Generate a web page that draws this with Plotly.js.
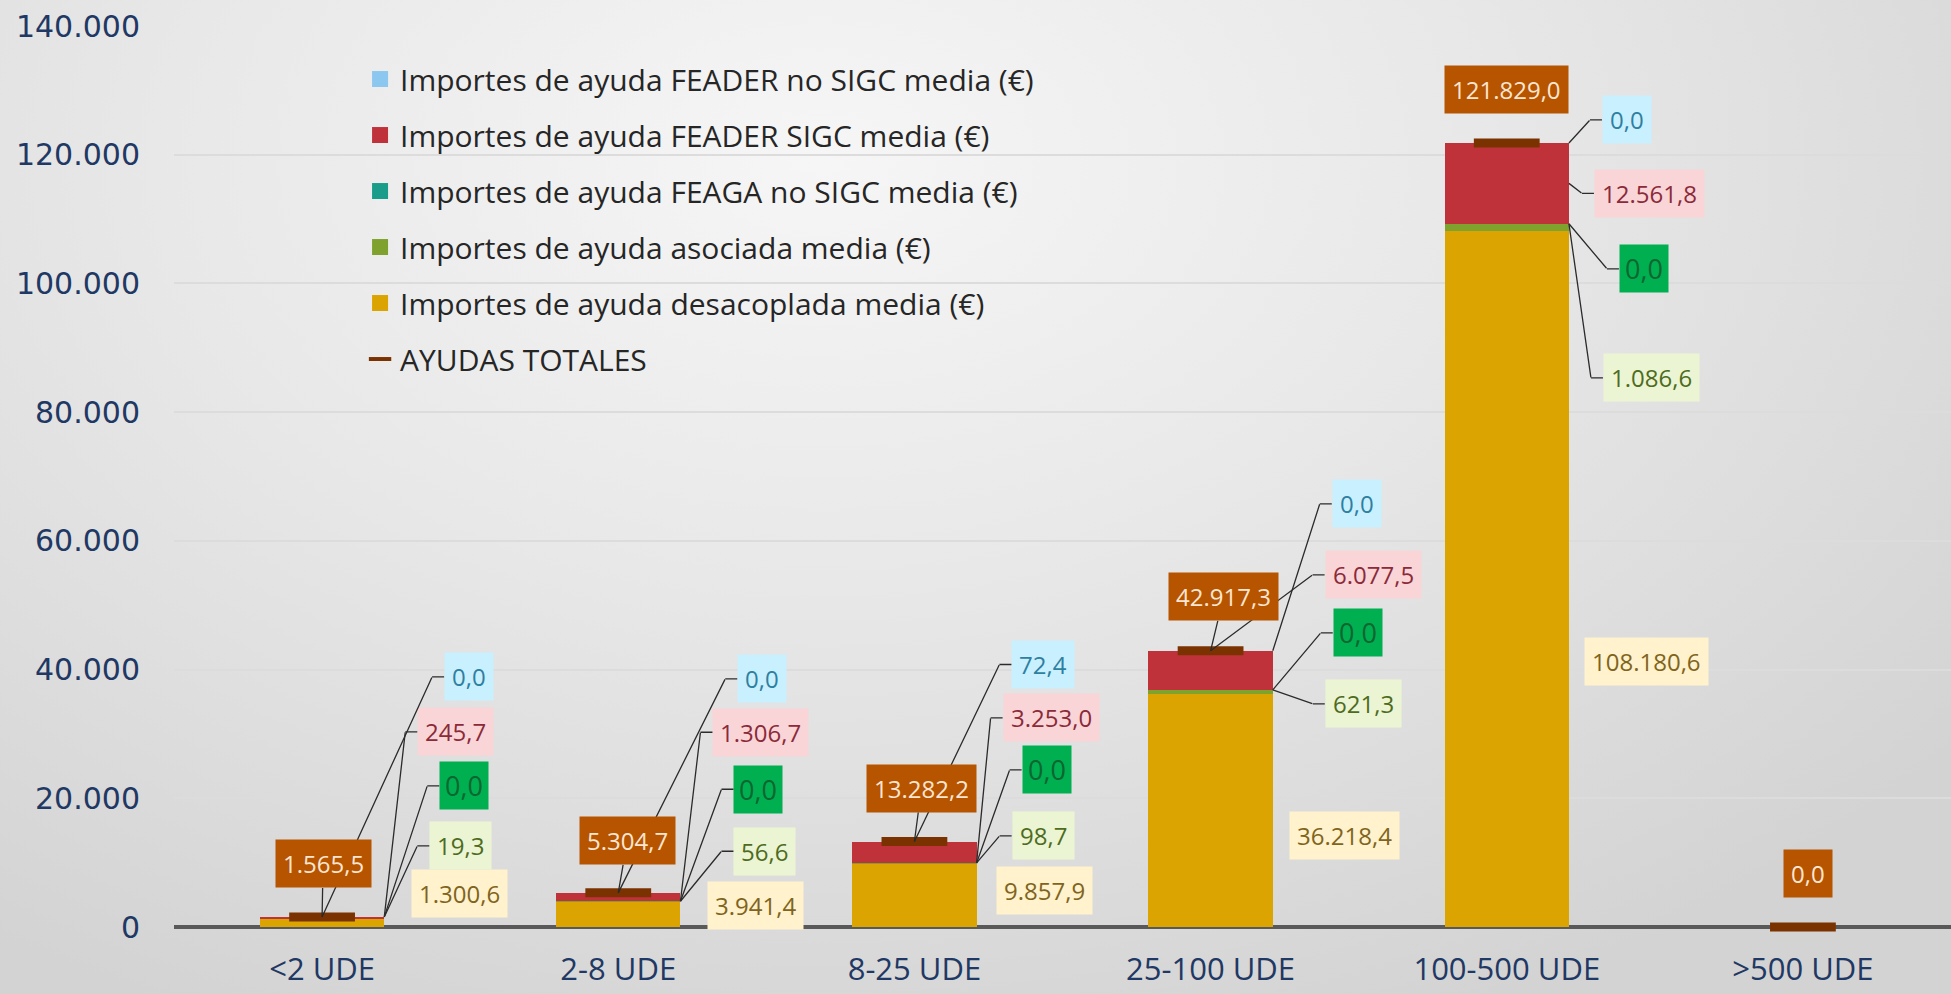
<!DOCTYPE html>
<html><head><meta charset="utf-8">
<script src="https://cdn.plot.ly/plotly-3.0.1.min.js"></script>
<style>
html,body{margin:0;padding:0;width:1951px;height:994px;overflow:hidden;}
#bg{position:absolute;left:0;top:0;width:1951px;height:994px;background:radial-gradient(ellipse 75% 95% at 42% 16%, #f6f6f6 0%, #e8e8e8 45%, #d3d3d3 100%);}
#chart{position:absolute;left:0;top:0;width:1951px;height:994px;}
</style></head><body><div id="bg"></div><div id="chart"></div>
<script>
// ---------------- DATA ----------------
const categories = ["<2 UDE", "2-8 UDE", "8-25 UDE", "25-100 UDE", "100-500 UDE", ">500 UDE"];
const desacoplada  = [1300.6, 3941.4, 9857.9, 36218.4, 108180.6, 0];
const asociada     = [19.3, 56.6, 98.7, 621.3, 1086.6, 0];
const feagaNoSigc  = [0, 0, 0, 0, 0, 0];
const feaderSigc   = [245.7, 1306.7, 3253.0, 6077.5, 12561.8, 0];
const feaderNoSigc = [0, 0, 72.4, 0, 0, 0];
const totales      = [1565.5, 5304.7, 13282.2, 42917.3, 121829.0, 0.0];

const nameDesacoplada  = "Importes de ayuda desacoplada media (€)";
const nameAsociada     = "Importes de ayuda asociada media (€)";
const nameFeagaNoSigc  = "Importes de ayuda FEAGA no SIGC media (€)";
const nameFeaderSigc   = "Importes de ayuda FEADER SIGC media (€)";
const nameFeaderNoSigc = "Importes de ayuda FEADER no SIGC media (€)";
const nameTotales      = "AYUDAS TOTALES";

// ---------------- STYLES ----------------
// stack order: bottom -> top
const stack = [desacoplada, asociada, feagaNoSigc, feaderSigc, feaderNoSigc];
const stackNames = [nameDesacoplada, nameAsociada, nameFeagaNoSigc, nameFeaderSigc, nameFeaderNoSigc];
const barColors = ["#DBA400", "#7FA22E", "#1A9C8A", "#C0323A", "#8CC7F0"];
const labelBg   = ["#FFF2CC", "#EBF5D3", "#00AF50", "#F9D5D8", "#C9F0FF"];
const labelFg   = ["#7F6420", "#4E6B1E", "#0C6630", "#8B2A38", "#2E7FA0"];
const labelSize = [24, 24, 27, 24, 24];
const labelPad  = [7, 7, 5, 7, 7];
const legendOrder = [4, 3, 2, 1, 0];
const totalColor = "#7A3300";
const totalLabelBg = "#B65400";
const totalLabelFg = "#FCE6D2";
const lineColor = "#2b2b2b";

const BAR_WIDTH = 0.42;
const STUB = 12;

// label placement: per category, per stack index -> [side, level, frac, elbowDx, elbowDy, leader]
const labelPlace = [
  [["r",1,1,15,-25,false],["r",4,1,33,-71,true],["r",4,1,43,-131,true],["r",4,1,21,-185,true],["c",4,1,110,-240,true]],
  [["r",1,1,15,4,false],["r",1,1,41,-50,true],["r",1,1,41,-112,true],["r",1,1,20,-169,true],["c",4,1,107,-214,true]],
  [["r",1,1,7,28,false],["r",1,1,23,-27,true],["r",1,1,33,-93,true],["r",1,1,14,-145,true],["c",4,1,85,-177,true]],
  [["r",1,1,4,146,false],["r",1,1,40,14,true],["r",1,1,48,-57,true],["c",4,1,102,-76,true],["r",4,1,47,-147,true]],
  [["r",1,1,3,438,false],["r",1,1,22,154,true],["r",1,1,38,45,true],["r",3,0.5,13,10,true],["r",4,1,21,-23,true]],
  null
];
// total label placement: [dx, dy, leader]
const totalPlace = [[1,-53,true],[9,-52,true],[7,-53,true],[13,-54,true],[0,-53,false],[5,-54,false]];

function fmt(v){
  const s = Math.abs(v).toFixed(1).split(".");
  return (v<0?"-":"") + s[0].replace(/\B(?=(\d{3})+(?!\d))/g, ".") + "," + s[1];
}
function cum(i, k, f){
  let s = 0;
  for(let j=0;j<k;j++) s += stack[j][i];
  return s + f*stack[k][i];
}

// ---------------- TRACES ----------------
const traces = [];
stack.forEach((arr, k) => {
  traces.push({type:"bar", x:categories, y:arr, name:stackNames[k], marker:{color:barColors[k], line:{width:0}},
    showlegend:false, hoverinfo:"skip"});
});
traces.push({type:"scatter", mode:"markers", x:categories, y:totales, name:nameTotales,
  marker:{symbol:"line-ew", size:47, color:totalColor, line:{width:9, color:totalColor}},
  showlegend:false, cliponaxis:false, hoverinfo:"skip"});
// legend entries (legend order)
legendOrder.forEach((k, n) => {
  traces.push({type:"scatter", mode:"markers", x:[null], y:[null], name:stackNames[k],
    marker:{symbol:"square", size:16, color:barColors[k]}, legendgroup:"g"+n, showlegend:true});
});
traces.push({type:"scatter", mode:"markers", x:[null], y:[null], name:nameTotales,
  marker:{symbol:"line-ew", size:16, color:totalColor, line:{width:4, color:totalColor}}, legendgroup:"gt", showlegend:true});

// ---------------- ANNOTATIONS ----------------
const annotations = [];
const labFont = (c, s) => ({family:"Open Sans", size:s, color:c});
categories.forEach((cat, i) => {
  const place = labelPlace[i];
  if(place){
    place.forEach((p, k) => {
      const [side, lvl, frac, ex, ey, leader] = p;
      const xa = i + (side === "r" ? BAR_WIDTH/2 : 0);
      const ya = cum(i, lvl, frac);
      if(leader){
        annotations.push({x:xa, y:ya, xref:"x", yref:"y", ax:ex, ay:ey, text:"", showarrow:true,
          arrowhead:0, arrowwidth:1.3, arrowcolor:lineColor, borderpad:0});
      }
      annotations.push({x:xa, y:ya, xref:"x", yref:"y", xshift:ex, yshift:-ey, ax:STUB, ay:0,
        xanchor:"left", yanchor:"middle", text:fmt(stack[k][i]), showarrow:true, arrowhead:0, arrowwidth:1.3,
        arrowcolor: leader ? lineColor : "rgba(0,0,0,0)", bgcolor:labelBg[k], borderpad:labelPad[k],
        font:labFont(labelFg[k], labelSize[k])});
    });
  }
  const t = totalPlace[i];
  annotations.push({x:i, y:totales[i], xref:"x", yref:"y", ax:t[0], ay:t[1], text:fmt(totales[i]), showarrow:true,
    arrowhead:0, arrowwidth:1.3, arrowcolor: t[2] ? lineColor : "rgba(0,0,0,0)", bgcolor:totalLabelBg, borderpad:7,
    font:labFont(totalLabelFg, 24)});
});

// ---------------- LAYOUT ----------------
const layout = {
  width:1951, height:994,
  margin:{l:174, r:0, t:26, b:67},
  paper_bgcolor:"rgba(0,0,0,0)", plot_bgcolor:"rgba(0,0,0,0)",
  separators:",.",
  barmode:"stack", bargap:1-BAR_WIDTH,
  hovermode:false,
  xaxis:{type:"category", categoryorder:"array", categoryarray:categories, range:[-0.5,5.5],
    showgrid:false, showline:false, zeroline:false, ticks:"outside", ticklen:15, tickcolor:"rgba(0,0,0,0)",
    tickfont:{family:"Open Sans", size:31, color:"#1F3864"}},
  yaxis:{range:[0,140000], dtick:20000, tickformat:",d", showgrid:true, gridcolor:"#dcdcdc", gridwidth:2,
    zeroline:true, zerolinecolor:"#595959", zerolinewidth:4, showline:false,
    ticks:"outside", ticklen:27, tickcolor:"rgba(0,0,0,0)",
    tickfont:{family:"DejaVu Sans", size:30, color:"#1F3864"}},
  legend:{x:0.1047, y:0.970, xanchor:"left", yanchor:"top", bgcolor:"rgba(0,0,0,0)",
    font:{family:"Open Sans", size:30, color:"#262626"}, traceorder:"grouped", tracegroupgap:14},
  annotations:annotations
};

Plotly.newPlot("chart", traces, layout, {displayModeBar:false, staticPlot:true});
</script>
</body></html>
